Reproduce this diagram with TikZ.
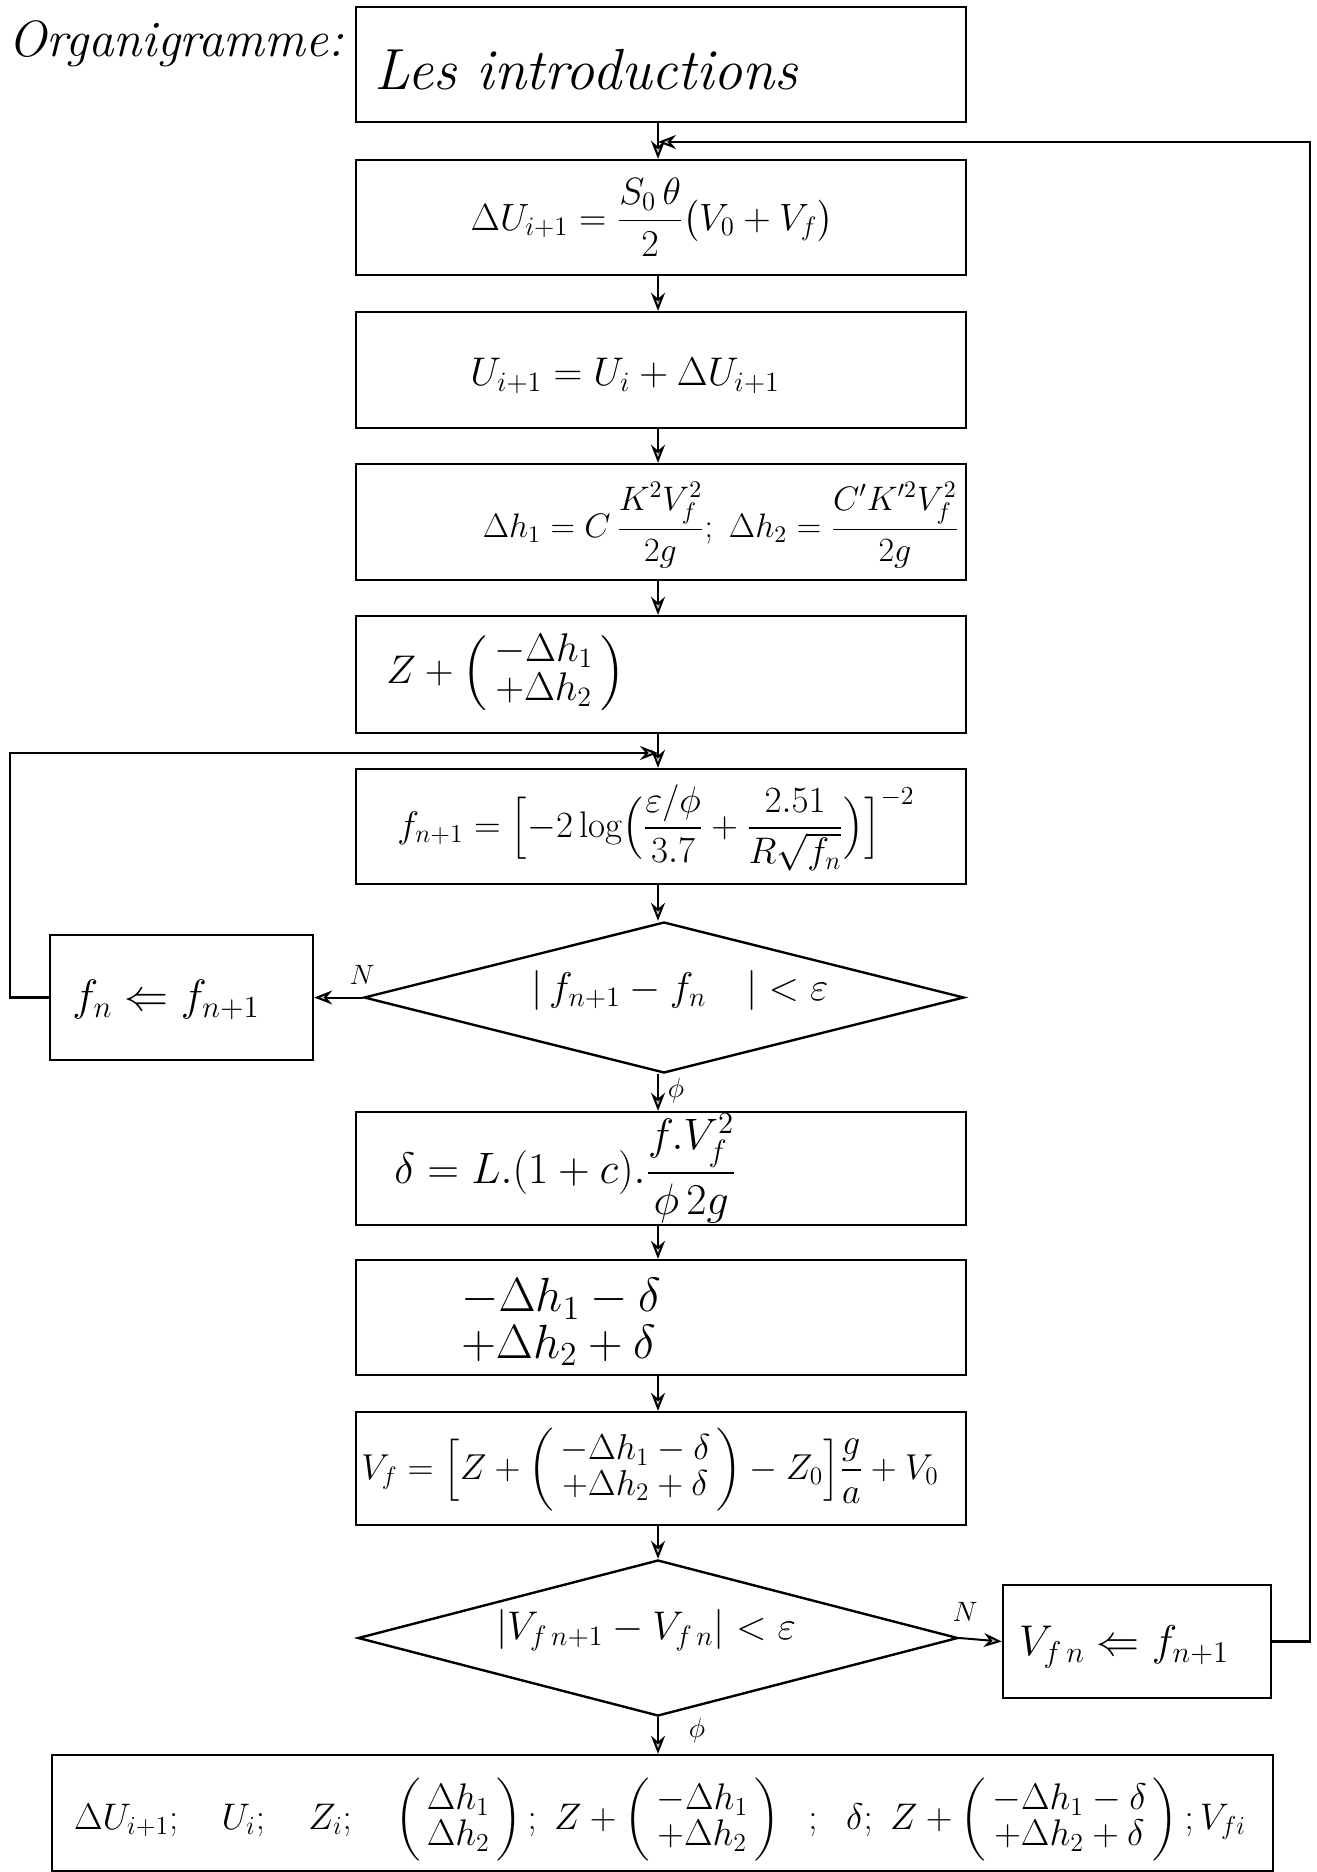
\RequirePackage{fix-cm}
\documentclass[tikz,border=0pt]{standalone}
\usepackage{amsmath}
\usepackage{fontspec}
\usetikzlibrary{arrows.meta,shapes.geometric}
\newcommand{\stk}[1]{\left(\def\arraystretch{0.78}\begin{array}{@{\,}c@{\,}}#1\end{array}\right)}
\tikzset{
  box/.style={draw, line width=1.2pt, minimum width=305pt, inner sep=0pt},
  decision/.style={draw, diamond, line width=1.2pt, inner sep=0pt, aspect=4},
  txt/.style={inner sep=0pt, font=\fontsize{20}{24}\selectfont},
  lbl/.style={inner sep=0pt, font=\fontsize{14}{16}\selectfont},
  arr/.style={line width=1pt, -{Stealth[length=9pt,width=7pt,fill=gray!45]}},
  link/.style={line width=1.2pt}
}
\begin{document}
\begin{tikzpicture}[x=0.5pt,y=-0.5pt]
\useasboundingbox (0,0) rectangle (1316,1872);
% title
\node[inner sep=0pt, anchor=west, font=\fontsize{25.5}{30}\selectfont\itshape] (title) at (8,44) {Organigramme:};
% main column
\node[box, minimum height=57.5pt] (b1) at (661,64.5) {};
\node[inner sep=0pt, anchor=west, font=\fontsize{29}{34}\selectfont\itshape] (t1) at (374,70) {Les introductions};

\node[box, minimum height=57.5pt] (b2) at (661,217.5) {};
\node[txt, font=\fontsize{19}{23}\selectfont] (t2) at (652,217) {$\Delta U_{i+1} = \dfrac{S_0\,\theta}{2}\bigl(V_0+V_f\bigr)$};

\node[box, minimum height=58pt] (b3) at (661,370) {};
\node[txt, anchor=west] (t3) at (470,376) {$U_{i+1} = U_i + \Delta U_{i+1}$};

\node[box, minimum height=58pt] (b4) at (661,522) {};
\node[txt, font=\fontsize{17}{20}\selectfont] (t4) at (721,525) {$\Delta h_1 = C\,\dfrac{K^2V_f^2}{2g};\ \Delta h_2 = \dfrac{C'K'^2V_f^2}{2g}$};

\node[box, minimum height=58.5pt] (b5) at (661,674.5) {};
\node[txt, anchor=west] (t5) at (386,673) {$Z + \stk{-\Delta h_1\\ +\Delta h_2}$};

\node[box, minimum height=57.5pt] (b6) at (661,826.5) {};
\node[txt, font=\fontsize{18.5}{22}\selectfont] (t6) at (656,828) {$f_{n+1} = \Bigl[-2\log\Bigl(\dfrac{\varepsilon/\phi}{3.7}+\dfrac{2.51}{R\sqrt{f_n}}\Bigr)\Bigr]^{-2}$};

\node[decision, minimum width=300pt, minimum height=75.5pt] (d1) at (664,997.5) {};
\node[txt] (td1) at (680,990) {$|\,f_{n+1} - f_n\quad| < \varepsilon$};

\node[box, minimum width=131.5pt, minimum height=62.5pt] (fn) at (181.5,997.5) {};
\node[txt, font=\fontsize{22}{26}\selectfont] (tfn) at (166,1000) {$f_n \Leftarrow f_{n+1}$};

\node[box, minimum height=56.5pt] (b7) at (661,1168.5) {};
\node[txt, anchor=west, font=\fontsize{22}{26}\selectfont] (t7) at (394,1168) {$\delta = L.(1+c).\dfrac{f.V_f^2}{\phi\,2g}$};

\node[box, minimum height=57.5pt] (b8) at (661,1317.5) {};
\node[txt, anchor=west, font=\fontsize{24}{28.8}\selectfont] (t8) at (461,1325) {$\def\arraystretch{0.76}\begin{array}{@{}l@{}} -\Delta h_1 - \delta\\ +\Delta h_2 + \delta\end{array}$};

\node[box, minimum height=56.5pt] (b9) at (661,1468.5) {};
\node[txt, font=\fontsize{18}{22}\selectfont] (t9) at (650,1470) {$V_f = \Bigl[Z + \stk{-\Delta h_1-\delta\\ +\Delta h_2+\delta} - Z_0\Bigr]\dfrac{g}{a}+V_0$};

\node[decision, minimum width=300pt, minimum height=78pt] (d2) at (658,1638) {};
\node[txt] (td2) at (646,1630) {$|V_{f\,n+1} - V_{f\,n}| < \varepsilon$};

\node[box, minimum width=134pt, minimum height=56.5pt] (vfn) at (1137,1641.5) {};
\node[txt, font=\fontsize{21.5}{25}\selectfont] (tvfn) at (1124,1647) {$V_{f\,n} \Leftarrow f_{n+1}$};

\node[box, minimum width=610.5pt, minimum height=58pt] (fin) at (662.5,1813) {};
\node[txt, font=\fontsize{18.5}{22}\selectfont] (tfin) at (660,1820) {$\Delta U_{i+1};\quad U_i;\quad Z_i;\quad \stk{\Delta h_1\\ \Delta h_2};\ Z+\stk{-\Delta h_1\\ +\Delta h_2}\ \ ;\ \ \delta;\ Z+\stk{-\Delta h_1-\delta\\ +\Delta h_2+\delta};V_{fi}$};

% labels
\node[lbl] (n1) at (362,975) {$N$};
\node[lbl] (p1) at (676,1090) {$\phi$};
\node[lbl] (n2) at (965,1612) {$N$};
\node[lbl] (p2) at (697,1730) {$\phi$};

% coordinates for loops
\coordinate (j1) at (658,142);
\coordinate (j2) at (658,753);
\coordinate (rr) at (1310,1641.5);
\coordinate (rt) at (1310,142);
\coordinate (ll) at (10,997.5);
\coordinate (lt) at (10,753);

% connectors
\draw[arr] (b1.south -| j1) -- (b2.north -| j1);
\draw[arr] (b2.south -| j1) -- (b3.north -| j1);
\draw[arr] (b3.south -| j1) -- (b4.north -| j1);
\draw[arr] (b4.south -| j1) -- (b5.north -| j1);
\draw[arr] (b5.south -| j1) -- (b6.north -| j1);
\draw[arr] (b6.south -| j1) -- (d1.north -| j1);
\draw[arr] (d1.south -| j1) -- (b7.north -| j1);
\draw[arr] (b7.south -| j1) -- (b8.north -| j1);
\draw[arr] (b8.south -| j1) -- (b9.north -| j1);
\draw[arr] (b9.south -| j1) -- (d2.north -| j1);
\draw[arr] (d2.south -| j1) -- (fin.north -| j1);
\draw[arr] (d1.west) -- (fn.east);
\draw[arr] (d2.east) -- (vfn.west);
\draw[link] (fn.west) -- (ll) -- (lt) -- ([xshift=-4]j2);
\draw[arr] (200,753) -- (j2);
\draw[link] (vfn.east) -- (rr) -- (rt) -- (900,142);
\draw[arr] (900,142) -- (j1);
\end{tikzpicture}
\end{document}
